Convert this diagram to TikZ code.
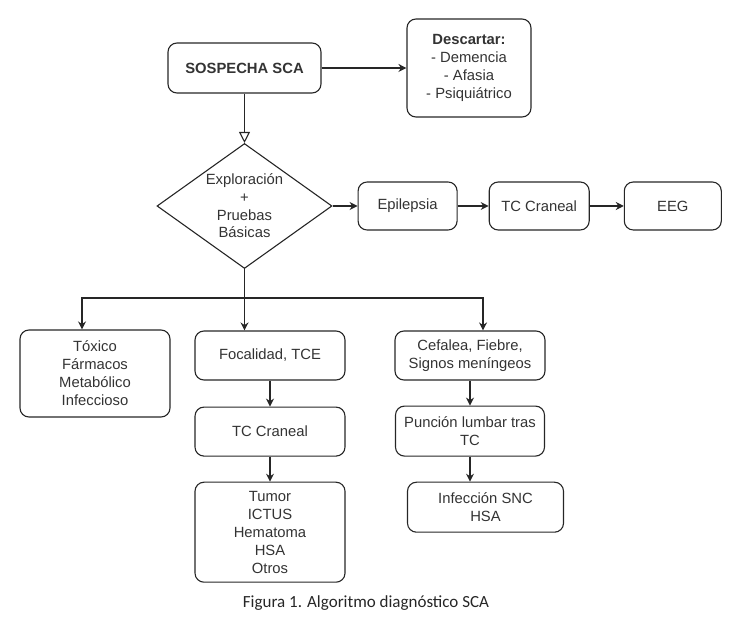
\documentclass[tikz,border=0pt]{standalone}
\usepackage{fontspec}
\setmainfont{Liberation Sans}
\newfontfamily\capfont{Carlito}
\usetikzlibrary{arrows.meta,shapes.geometric}

\begin{document}
\begin{tikzpicture}[x=1pt,y=-1pt]

\def\vsep{25pt}
\def\hsep{25pt}

\tikzstyle{box} = [draw=black!85,line width=1.1pt,rounded corners=9pt,align=center,text=black!80,font=\fontsize{14.8}{18}\selectfont,inner sep=2pt];
\tikzstyle{dec} = [diamond,draw=black!85,line width=1.1pt,align=center,text=black!80,font=\fontsize{14.8}{17.7}\selectfont,inner sep=0pt,aspect=1.4,minimum width=175pt,minimum height=125pt];
\tikzstyle{arr} = [-{Stealth[length=8pt,width=8pt]},line width=1.1pt,black!85];

\useasboundingbox (0,0) rectangle (737,617);

% top row
\node [box,minimum width=153pt,minimum height=50pt] (sosp) at (244.5,68) {\textbf{SOSPECHA SCA}};
\node [box,minimum width=124pt,minimum height=98pt] (desc) at (469,68) {\textbf{Descartar:}\\- Demencia\\- Afasia\\- Psiquiátrico};

\draw [arr] (sosp.east) -- (sosp.east -| desc.west);

% decision
\node [dec] (diam) at (244.5,206) {Exploración\\+\\Pruebas\\Básicas};
\draw [-{Triangle[open,length=11pt,width=11pt]},line width=1.1pt,black!85] (sosp.south) -- (diam.north);

\node [box,anchor=west,minimum width=99pt,minimum height=48pt] (epi) at ([xshift=\hsep]diam.east) {Epilepsia};
\node [box,anchor=west,minimum width=100pt,minimum height=48pt] (tc1) at ([xshift=31pt]epi.east) {TC Craneal};
\node [box,anchor=west,minimum width=97pt,minimum height=48pt] (eeg) at ([xshift=34pt]tc1.east) {EEG};

\draw [arr] (diam.east) -- (epi.west);
\draw [arr] (epi.east) -- (tc1.west);
\draw [arr] (tc1.east) -- (eeg.west);

% branches
\node [box,minimum width=150pt,minimum height=87pt] (tox) at (95,373.5) {Tóxico\\Fármacos\\Metabólico\\Infeccioso};
\node [box,minimum width=150pt,minimum height=49pt] (focal) at (270,355.5) {Focalidad, TCE};
\node [box,anchor=north,minimum width=150pt,minimum height=49pt] (tc2) at ([yshift=-26pt]focal.south) {TC Craneal};
\node [box,anchor=north,minimum width=150pt,minimum height=100pt] (tumor) at ([yshift=-\vsep]tc2.south) {Tumor\\ICTUS\\Hematoma\\HSA\\Otros};

\node [box,minimum width=150pt,minimum height=49pt] (cef) at (470,355.5) {Cefalea, Fiebre,\\Signos meníngeos};
\node [box,anchor=north,minimum width=149pt,minimum height=50pt] (punc) at ([yshift=-\vsep]cef.south) {Punción lumbar tras\\TC};
\node [box,anchor=north west,minimum width=156pt,minimum height=50pt] (inf) at ([xshift=12pt,yshift=-\vsep]punc.south west) {Infección SNC\\HSA};

\coordinate (split) at (244.5,298);
\draw [line width=1.1pt,black!85] (diam.south) -- (split);
\draw [arr] (split) -| ([xshift=-13pt]tox.north);
\draw [arr] (split) -| ([xshift=13pt]cef.north);
\draw [arr] (split) -- (split |- focal.north);

\draw [arr] (focal.south) -- (tc2.north);
\draw [arr] (tc2.south) -- (tumor.north);
\draw [arr] (cef.south) -- (punc.north);
\draw [arr] (punc.south) -- (punc.south |- inf.north);

\node [font=\capfont\fontsize{17}{20}\selectfont,text=black!85] (caption) at (366,603) {Figura 1. Algoritmo diagnóstico SCA};

\end{tikzpicture}
\end{document}
